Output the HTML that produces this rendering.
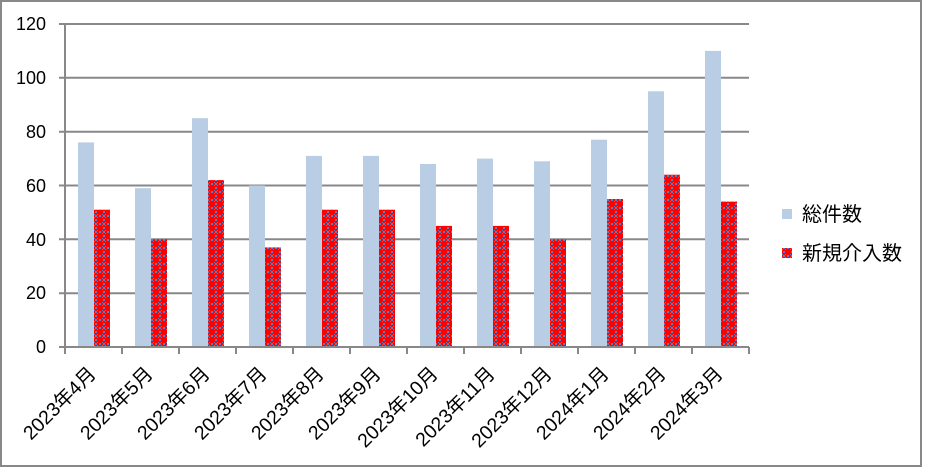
<!DOCTYPE html>
<html><head><meta charset="utf-8"><style>
html,body{margin:0;padding:0;background:#fff;}
svg{display:block;}
text{font-family:"Liberation Sans","Noto Sans CJK JP",sans-serif;fill:#000;}
</style></head><body>
<svg width="925" height="469" viewBox="0 0 925 469" xmlns="http://www.w3.org/2000/svg">
<defs>
<pattern id="pat" x="0" y="0" width="8" height="8" patternUnits="userSpaceOnUse">
<rect width="8" height="8" fill="#ff0000"/>
<g fill="#5a7fc4">
<rect x="3" y="0" width="2" height="1"/>
<rect x="1" y="1" width="1" height="1"/><rect x="6" y="1" width="1" height="1"/>
<rect x="0" y="3" width="1" height="2"/><rect x="7" y="3" width="1" height="2"/>
<rect x="1" y="6" width="1" height="1"/><rect x="6" y="6" width="1" height="1"/>
<rect x="3" y="7" width="2" height="1"/>
<rect x="0" y="0" width="1" height="1"/><rect x="7" y="7" width="1" height="1"/>
<rect x="7" y="0" width="1" height="1"/><rect x="0" y="7" width="1" height="1"/>
</g>
</pattern>
</defs>
<rect x="0" y="0" width="925" height="469" fill="#fff"/>
<rect x="1" y="1" width="920" height="465" fill="none" stroke="#888" stroke-width="2"/>
<!-- gridlines -->
<g stroke="#888" stroke-width="2">
<line x1="59" y1="24" x2="749" y2="24"/>
<line x1="59" y1="77.8" x2="749" y2="77.8"/>
<line x1="59" y1="131.7" x2="749" y2="131.7"/>
<line x1="59" y1="185.5" x2="749" y2="185.5"/>
<line x1="59" y1="239.3" x2="749" y2="239.3"/>
<line x1="59" y1="293.2" x2="749" y2="293.2"/>
</g>
<!-- y labels -->
<g font-size="18" text-anchor="end">
<text x="46" y="30">120</text>
<text x="46" y="84">100</text>
<text x="46" y="138">80</text>
<text x="46" y="192">60</text>
<text x="46" y="246">40</text>
<text x="46" y="299">20</text>
<text x="46" y="353">0</text>
</g>
<!-- bars -->
<g fill="#b9cde5">
<rect x="78" y="142.4" width="16" height="204.6"/>
<rect x="135" y="188.2" width="16" height="158.8"/>
<rect x="192" y="118.2" width="16" height="228.8"/>
<rect x="249" y="185.5" width="16" height="161.5"/>
<rect x="306" y="155.9" width="16" height="191.1"/>
<rect x="363" y="155.9" width="16" height="191.1"/>
<rect x="420" y="164.0" width="16" height="183.0"/>
<rect x="477" y="158.6" width="16" height="188.4"/>
<rect x="534" y="161.3" width="16" height="185.7"/>
<rect x="591" y="139.7" width="16" height="207.3"/>
<rect x="648" y="91.3" width="16" height="255.7"/>
<rect x="705" y="50.9" width="16" height="296.1"/>
</g>
<g fill="url(#pat)">
<rect x="94" y="209.7" width="16" height="137.3"/>
<rect x="151" y="239.3" width="16" height="107.7"/>
<rect x="208" y="180.1" width="16" height="166.9"/>
<rect x="265" y="247.4" width="16" height="99.6"/>
<rect x="322" y="209.7" width="16" height="137.3"/>
<rect x="379" y="209.7" width="16" height="137.3"/>
<rect x="436" y="225.9" width="16" height="121.1"/>
<rect x="493" y="225.9" width="16" height="121.1"/>
<rect x="550" y="239.3" width="16" height="107.7"/>
<rect x="607" y="199.0" width="16" height="148.0"/>
<rect x="664" y="174.7" width="16" height="172.3"/>
<rect x="721" y="201.6" width="16" height="145.4"/>
</g>
<!-- axes -->
<g stroke="#888" stroke-width="2">
<line x1="65" y1="24" x2="65" y2="348"/>
<line x1="59" y1="347" x2="749" y2="347"/>
<line x1="65" y1="347" x2="65" y2="354"/>
<line x1="122" y1="347" x2="122" y2="354"/>
<line x1="179" y1="347" x2="179" y2="354"/>
<line x1="236" y1="347" x2="236" y2="354"/>
<line x1="293" y1="347" x2="293" y2="354"/>
<line x1="350" y1="347" x2="350" y2="354"/>
<line x1="407" y1="347" x2="407" y2="354"/>
<line x1="464" y1="347" x2="464" y2="354"/>
<line x1="521" y1="347" x2="521" y2="354"/>
<line x1="578" y1="347" x2="578" y2="354"/>
<line x1="635" y1="347" x2="635" y2="354"/>
<line x1="692" y1="347" x2="692" y2="354"/>
<line x1="749" y1="347" x2="749" y2="354"/>
</g>
<!-- x labels -->
<g font-size="19.5" text-anchor="end">
<text transform="translate(97,375) rotate(-45)">2023年4月</text>
<text transform="translate(154,375) rotate(-45)">2023年5月</text>
<text transform="translate(211,375) rotate(-45)">2023年6月</text>
<text transform="translate(268,375) rotate(-45)">2023年7月</text>
<text transform="translate(325,375) rotate(-45)">2023年8月</text>
<text transform="translate(382,375) rotate(-45)">2023年9月</text>
<text transform="translate(439,375) rotate(-45)">2023年10月</text>
<text transform="translate(496,375) rotate(-45)">2023年11月</text>
<text transform="translate(553,375) rotate(-45)">2023年12月</text>
<text transform="translate(610,375) rotate(-45)">2024年1月</text>
<text transform="translate(667,375) rotate(-45)">2024年2月</text>
<text transform="translate(724,375) rotate(-45)">2024年3月</text>
</g>
<!-- legend -->
<rect x="782" y="209" width="10" height="10" fill="#b9cde5"/>
<text x="802" y="221" font-size="20">総件数</text>
<rect x="782" y="248" width="10" height="10" fill="url(#pat)"/>
<text x="802" y="260" font-size="20">新規介入数</text>
</svg>
</body></html>
